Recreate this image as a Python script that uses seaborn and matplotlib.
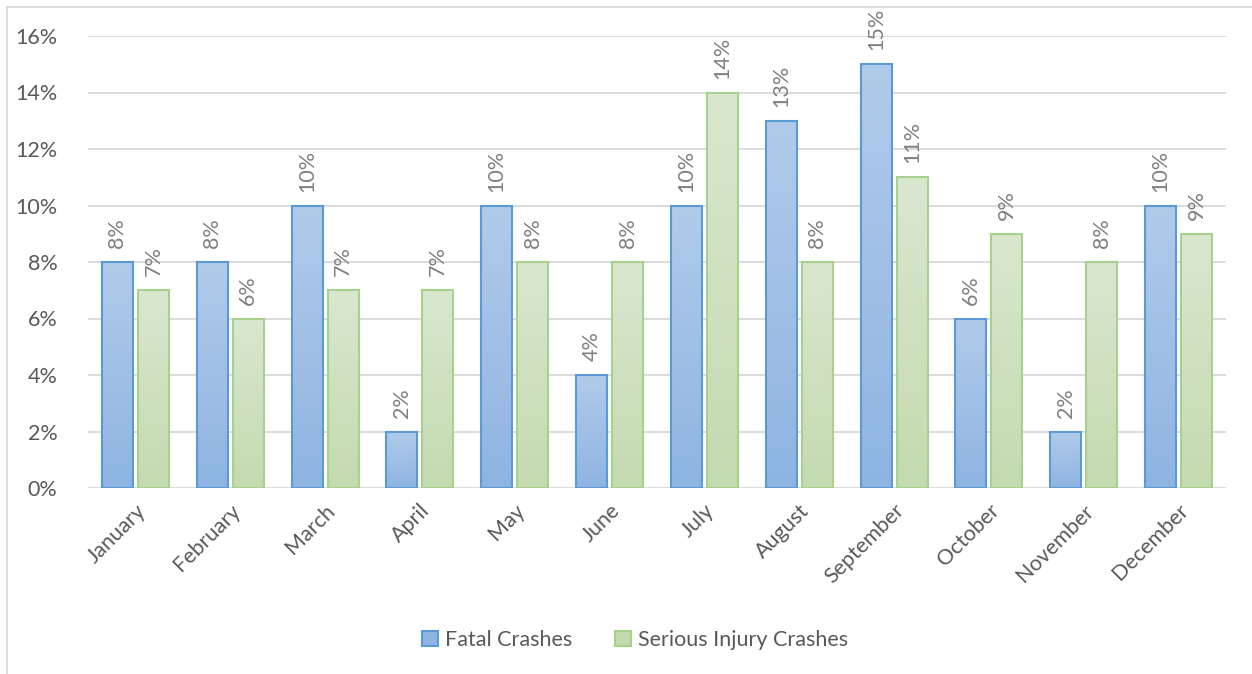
import numpy as np
import pandas as pd
import seaborn as sns
import matplotlib.pyplot as plt
from matplotlib.patches import Patch
from matplotlib.lines import Line2D
from matplotlib.ticker import FuncFormatter

months = ["January", "February", "March", "April", "May", "June",
          "July", "August", "September", "October", "November", "December"]
fatal_pct = [8, 8, 10, 2, 10, 4, 10, 13, 15, 6, 2, 10]
serious_pct = [7, 6, 7, 7, 8, 8, 14, 8, 11, 9, 8, 9]
series_names = ["Fatal Crashes", "Serious Injury Crashes"]

df = pd.DataFrame({
    "Month": months * 2,
    "Share": fatal_pct + serious_pct,
    "Series": [series_names[0]] * len(months) + [series_names[1]] * len(months),
})

sns.set_theme(style="white")
plt.rcParams["font.family"] = ["Lato", "DejaVu Sans"]

text_grey = "#595959"
label_grey = "#7f7f7f"
grid_grey = "#d9d9d9"
fs = 15.5

edge_cols = {series_names[0]: "#5b9bd5", series_names[1]: "#a9d18e"}
grad_cols = {series_names[0]: ("#b1cbea", "#8fb4e2"),
             series_names[1]: ("#dae7cf", "#c4dab0")}

fig = plt.figure(figsize=(12.52, 6.74), dpi=100)
ax = fig.add_axes([88 / 1252, 1 - 488 / 674, (1226 - 88) / 1252, (488 - 36) / 674])

sns.barplot(data=df, x="Month", y="Share", hue="Series", order=months,
            hue_order=series_names, palette=edge_cols, width=0.76, gap=0.14,
            ax=ax, legend=False, zorder=3)

ax.set_yticks(np.arange(0, 17, 2))
ax.yaxis.set_major_formatter(FuncFormatter(lambda v, _: f"{v:.0f}%"))
ax.grid(axis="y", color=grid_grey, linewidth=1.3, zorder=0)
ax.set_axisbelow(True)
for s in ax.spines.values():
    s.set_visible(False)
ax.set_xlabel("")
ax.set_ylabel("")
ax.tick_params(axis="y", length=0, pad=22, labelsize=fs, labelcolor=text_grey)
ax.tick_params(axis="x", length=0, pad=9, labelsize=fs, labelcolor=text_grey)
for lbl in ax.get_xticklabels():
    lbl.set_rotation(45)
    lbl.set_ha("right")
    lbl.set_rotation_mode("anchor")

# Vertical gradient fill inside each bar, outlined in the series colour
for name, container, vals in zip(series_names, ax.containers, [fatal_pct, serious_pct]):
    top, bottom = grad_cols[name]
    cmap = sns.blend_palette([bottom, top], as_cmap=True)
    grad = np.linspace(0, 1, 256).reshape(-1, 1)
    for rect in container:
        x, w, h = rect.get_x(), rect.get_width(), rect.get_height()
        im = ax.imshow(grad, cmap=cmap, origin="lower", aspect="auto",
                       extent=[x, x + w, 0, h], zorder=2.5, interpolation="bicubic")
        im.set_clip_path(rect)
        rect.set_facecolor("none")
        rect.set_edgecolor(edge_cols[name])
        rect.set_linewidth(1.5)
    ax.bar_label(container, labels=[f"{v}%" for v in vals], rotation=90,
                 padding=10, color=label_grey, fontsize=fs)

ax.set_ylim(0, 16)
ax.set_xlim(-0.5, len(months) - 0.5)

handles = [Patch(facecolor=grad_cols[n][1], edgecolor=edge_cols[n], linewidth=1.5, label=n)
           for n in series_names]
fig.legend(handles=handles, loc="center", bbox_to_anchor=(635 / 1252, 1 - 640 / 674),
           ncol=2, frameon=False, fontsize=fs, labelcolor=text_grey,
           handlelength=0.75, handleheight=0.75, handletextpad=0.3, columnspacing=2.0)

# Chart-area outline along the left and top
fig.add_artist(Line2D([6.5 / 1252, 6.5 / 1252], [0, 1 - 7 / 674], color=grid_grey,
                      linewidth=1.3, transform=fig.transFigure))
fig.add_artist(Line2D([6.5 / 1252, 1], [1 - 7 / 674, 1 - 7 / 674], color=grid_grey,
                      linewidth=1.3, transform=fig.transFigure))

fig.savefig("out.png", dpi=100, facecolor="white")
